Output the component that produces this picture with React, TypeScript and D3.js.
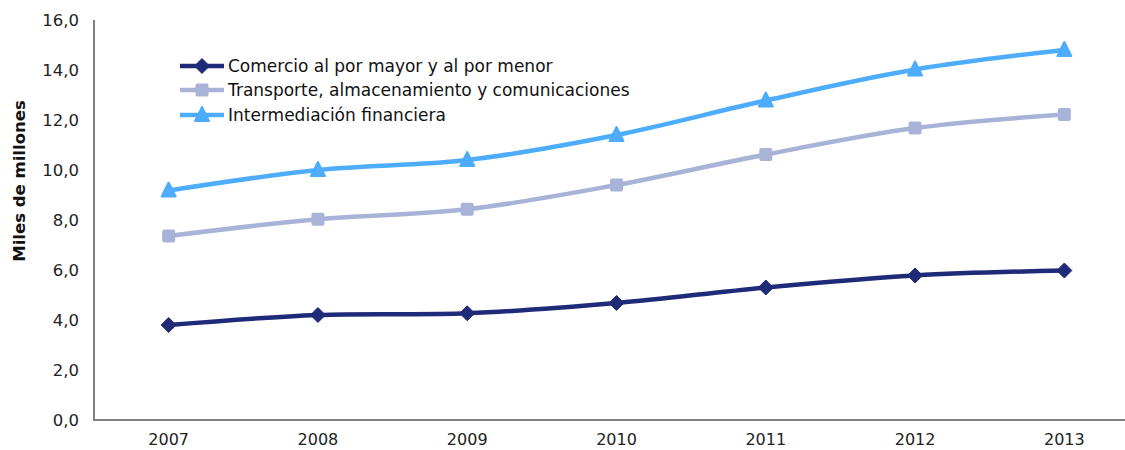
import React from "react";
import * as d3 from "d3";

const years = ["2007", "2008", "2009", "2010", "2011", "2012", "2013"];
const comercio = [3.8, 4.2, 4.27, 4.68, 5.3, 5.78, 5.98];
const transporte = [7.36, 8.03, 8.43, 9.4, 10.62, 11.68, 12.22];
const intermediacion = [9.18, 10.0, 10.4, 11.4, 12.78, 14.02, 14.8];
const yTicks = [0, 2, 4, 6, 8, 10, 12, 14, 16];
const seriesNames = [
  "Comercio al por mayor y al por menor",
  "Transporte, almacenamiento y comunicaciones",
  "Intermediación financiera",
];
const colors = ["#1f2a78", "#a9b3d8", "#4dacfc"];
const markers = ["diamond", "square", "triangle"];

const W = 1125;
const H = 450;
const left = 94;
const right = 1139;
const top = 20;
const bottom = 420;
const font = "'DejaVu Sans', Verdana, sans-serif";

function Marker({ type, x, y, color }: { type: string; x: number; y: number; color: string }) {
  if (type === "diamond") {
    const s = 7.5;
    return <path d={`M${x},${y - s}L${x + s},${y}L${x},${y + s}L${x - s},${y}Z`} fill={color} stroke={color} strokeWidth={1} strokeLinejoin="round" />;
  }
  if (type === "square") {
    const s = 6.5;
    return <rect x={x - s} y={y - s} width={2 * s} height={2 * s} rx={2} fill={color} />;
  }
  const s = 7;
  return <path d={`M${x},${y - s - 1}L${x + s},${y + s - 1}L${x - s},${y + s - 1}Z`} fill={color} stroke={color} strokeWidth={2} strokeLinejoin="round" />;
}

export default function App() {
  const x = d3.scalePoint<string>().domain(years).range([left, right]).padding(0.5);
  const y = d3.scaleLinear().domain([0, 16]).range([bottom, top]);
  const data = [comercio, transporte, intermediacion];
  const line = d3
    .line<number>()
    .x((_, i) => x(years[i]) as number)
    .y((d) => y(d))
    .curve(d3.curveCatmullRom.alpha(0.5));
  const fmt = (v: number) => v.toFixed(1).replace(".", ",");
  const legendY = [66, 90, 115];

  return (
    <svg width={W} height={H} style={{ position: "absolute", left: 0, top: 0, background: "#fff" }}>
      <line x1={left} x2={W} y1={bottom} y2={bottom} stroke="#808080" strokeWidth={2} />
      <line x1={left} x2={left} y1={top} y2={bottom + 1} stroke="#808080" strokeWidth={2} />
      {yTicks.map((t) => (
        <text key={t} x={79} y={y(t)} dy="0.35em" textAnchor="end" fontFamily={font} fontSize={16.5} fill="#222">
          {fmt(t)}
        </text>
      ))}
      {years.map((yr) => (
        <text key={yr} x={x(yr)} y={445} textAnchor="middle" fontFamily={font} fontSize={16} fill="#222">
          {yr}
        </text>
      ))}
      <text
        transform={`translate(25,181) rotate(-90)`}
        textAnchor="middle"
        fontFamily={font}
        fontSize={16.5}
        fontWeight="bold"
        fill="#111"
      >
        Miles de millones
      </text>
      {data.map((vals, si) => (
        <g key={si}>
          <path d={line(vals) || ""} fill="none" stroke={colors[si]} strokeWidth={4.5} />
          {vals.map((v, i) => (
            <Marker key={i} type={markers[si]} x={x(years[i]) as number} y={y(v)} color={colors[si]} />
          ))}
        </g>
      ))}
      {seriesNames.map((name, si) => (
        <g key={name}>
          <line x1={180} x2={224} y1={legendY[si]} y2={legendY[si]} stroke={colors[si]} strokeWidth={4.5} />
          <Marker type={markers[si]} x={202} y={legendY[si]} color={colors[si]} />
          <text x={228} y={legendY[si]} dy="0.35em" fontFamily={font} fontSize={17} fill="#111">
            {name}
          </text>
        </g>
      ))}
    </svg>
  );
}
